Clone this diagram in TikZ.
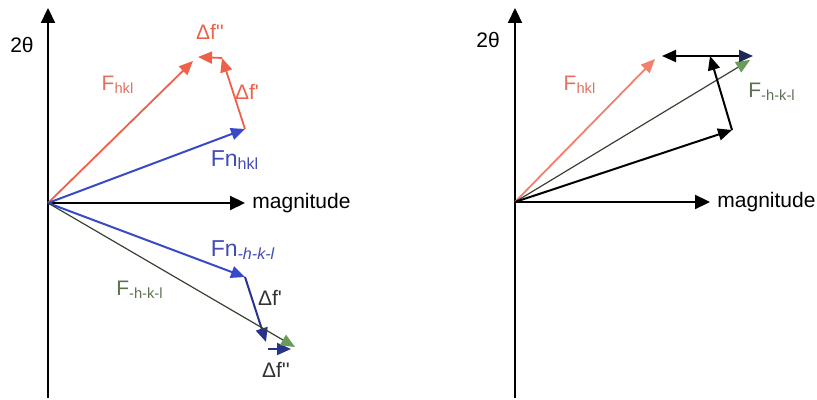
\documentclass[tikz,border=0pt]{standalone}
\usepackage{fontspec}
\setmainfont{Liberation Sans}
\usetikzlibrary{arrows.meta}
\definecolor{vred}{RGB}{238,96,74}
\definecolor{lred}{RGB}{226,112,92}
\definecolor{vblue}{RGB}{56,74,198}
\definecolor{lblue}{RGB}{66,76,178}
\definecolor{vgreen}{RGB}{104,156,88}
\definecolor{lgreen}{RGB}{92,112,82}
\definecolor{navy}{RGB}{30,40,84}
\begin{document}
\begin{tikzpicture}[x=0.5pt,y=-0.5pt,>={Triangle[length=7pt,width=6pt]},every node/.style={font=\fontsize{10.5}{12}\selectfont,inner sep=1pt}]
\useasboundingbox (0,0) rectangle (817,400);
\coordinate (o1) at (48,203);
\coordinate (yt1) at (48,8);
\coordinate (yb1) at (48,398);
\coordinate (xt1) at (245,203);
\coordinate (fh1) at (193,61);
\coordinate (fn1) at (245,129);
\coordinate (df1) at (222,58);
\coordinate (dd1) at (198,57);
\coordinate (fm1) at (245,277);
\coordinate (dg1) at (266,342);
\coordinate (dk1) at (268,349);
\coordinate (dh1) at (291,349);
\coordinate (fg1) at (295,347);
\coordinate (o2) at (515,202);
\coordinate (yt2) at (515,8);
\coordinate (yb2) at (515,398);
\coordinate (xt2) at (710,202);
\coordinate (fh2) at (655,59);
\coordinate (fg2) at (750,60);
\coordinate (fn2) at (732,130);
\coordinate (df2) at (710,56);
\coordinate (dl2) at (662,56);
\coordinate (dr2) at (753,56);
\draw[-{Triangle[length=7.5pt,width=7pt]},line width=1.1pt] (yb1) -- (yt1);
\draw[-{Triangle[length=7.5pt,width=7pt]},line width=1.1pt] (o1) -- (xt1);
\draw[->,vred,line width=0.9pt] (o1) -- (fh1);
\draw[->,vblue,line width=1pt] (o1) -- (fn1);
\draw[->,vred,line width=0.9pt] (fn1) -- (df1);
\draw[->,vred,line width=0.9pt] (df1) -- (dd1);
\draw[->,vblue,line width=1pt] (o1) -- (fm1);
\draw[->,vblue!70!black,line width=1pt] (fm1) -- (dg1);
\draw[->,vblue!70!black,line width=1pt] (dk1) -- (dh1);
\draw[-{Triangle[length=7pt,width=6pt,color=vgreen]},lgreen!60!black,line width=0.6pt] (o1) -- (fg1);
\draw[-{Triangle[length=7.5pt,width=7pt]},line width=1.1pt] (yb2) -- (yt2);
\draw[-{Triangle[length=7.5pt,width=7pt]},line width=1.1pt] (o2) -- (xt2);
\draw[->,vred!80!white,line width=0.9pt] (o2) -- (fh2);
\draw[-{Triangle[length=7pt,width=6pt,color=vgreen]},lgreen!60!black,line width=0.6pt] (o2) -- (fg2);
\draw[->,line width=1pt] (o2) -- (fn2);
\draw[->,line width=1pt] (fn2) -- (df2);
\draw[->,line width=1pt] (df2) -- (dl2);
\draw[-{Triangle[length=7pt,width=6pt,color=navy]},line width=1pt] (df2) -- (dr2);
\node (th1) at (22,45) {2θ};
\node[anchor=west] (mag1) at (250,203) {magnitude};
\node[vred] (ldd1) at (210,32) {Δf\textquotesingle\textquotesingle};
\node[lred] (lfh1) at (118,85) {F\textsubscript{hkl}};
\node[vred] (ldf1) at (247,92) {Δf\textquotesingle};
\node[lblue,font=\fontsize{11.5}{13}\selectfont] (lfn1) at (235,160) {Fn\textsubscript{hkl}};
\node[lblue,font=\fontsize{11.5}{13}\selectfont] (lfm1) at (243,250) {Fn\textsubscript{\itshape -h-k-l}};
\node[lgreen] (lfg1) at (140,290) {F\textsubscript{-h-k-l}};
\node[black!80] (ldg1) at (270,298) {Δf\textquotesingle};
\node[black!80] (ldh1) at (276,370) {Δf\textquotesingle\textquotesingle};
\node (th2) at (488,40) {2θ};
\node[anchor=west] (mag2) at (715,202) {magnitude};
\node[lred] (lfh2) at (580,85) {F\textsubscript{hkl}};
\node[lgreen] (lfg2) at (772,92) {F\textsubscript{-h-k-l}};
\end{tikzpicture}
\end{document}
